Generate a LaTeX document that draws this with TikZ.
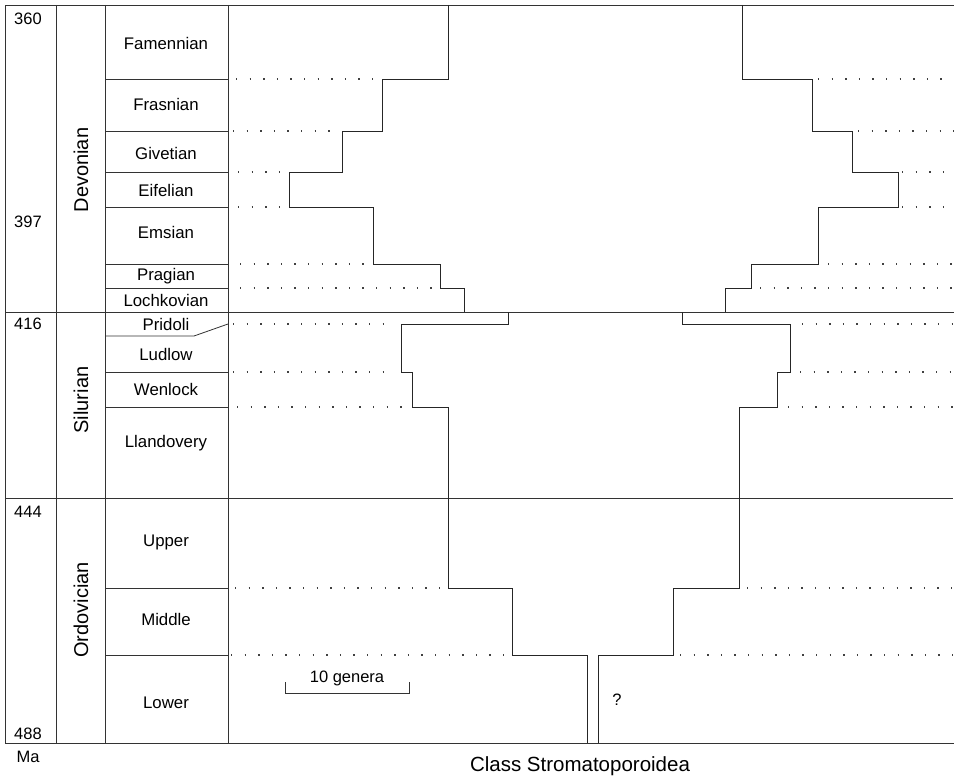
\documentclass[tikz,border=0pt]{standalone}
\usepackage{fontspec}
\setmainfont{Liberation Sans}
\begin{document}
\begin{tikzpicture}[x=1bp,y=-1bp,
  grid/.style={line width=0.8bp, draw=black!80},
  curve/.style={line width=0.9bp, draw=black!85},
  dotline/.style={line width=1.4bp, draw=black!75, dash pattern=on 1.4bp off 12.2bp},
  stage/.style={font=\fontsize{16.8bp}{18bp}\selectfont, inner sep=0pt},
  period/.style={font=\fontsize{20bp}{22bp}\selectfont, inner sep=0pt, rotate=90},
  age/.style={font=\fontsize{16.5bp}{18bp}\selectfont, inner sep=0pt}]
\useasboundingbox (0,0) rectangle (954,776);
% frame and columns
\draw[grid] (954,5) -- (5,5) -- (5,743) -- (954,743);
\draw[grid] (5,312) -- (954,312);
\draw[grid] (5,498) -- (953,498);
\draw[grid] (56,5) -- (56,743);
\draw[grid] (105,5) -- (105,743);
\draw[grid] (228,5) -- (228,743);
% stage boundaries
\foreach \y in {79,131,172,207,264,288,372,407,588,655}
  \draw[grid] (105,\y) -- (228,\y);
\draw[grid] (105,336) -- (194,336) -- (228,324);
% ages
\node[age] (a360) at (28,19) {360};
\node[age] (a397) at (28,222) {397};
\node[age] (a416) at (28,324) {416};
\node[age] (a444) at (28,512) {444};
\node[age] (a488) at (28,734) {488};
\node[age] (ma) at (28,757) {Ma};
% periods
\node[period] (dev) at (81,170) {Devonian};
\node[period] (sil) at (81,400) {Silurian};
\node[period] (ord) at (81,610) {Ordovician};
% stages
\node[stage] (fam) at (166,43) {Famennian};
\node[stage] (fra) at (166,104) {Frasnian};
\node[stage] (giv) at (166,153) {Givetian};
\node[stage] (eif) at (166,190) {Eifelian};
\node[stage] (ems) at (166,232) {Emsian};
\node[stage] (pra) at (166,276) {Pragian};
\node[stage] (loc) at (166,300) {Lochkovian};
\node[stage] (pri) at (166,324) {Pridoli};
\node[stage] (lud) at (166,354) {Ludlow};
\node[stage] (wen) at (166,389) {Wenlock};
\node[stage] (lla) at (166,443) {Llandovery};
\node[stage] (upp) at (166,542) {Upper};
\node[stage] (mid) at (166,619) {Middle};
\node[stage] (low) at (166,703) {Lower};
% spindle, left side
\draw[curve] (448,5) -- (448,79) -- (382,79) -- (382,131) -- (342,131) -- (342,172)
  -- (289,172) -- (289,207) -- (373,207) -- (373,264) -- (440,264) -- (440,288)
  -- (464,288) -- (464,312);
\draw[curve] (508,312) -- (508,324) -- (401,324) -- (401,372) -- (412,372) -- (412,407)
  -- (448,407) -- (448,588) -- (512,588) -- (512,655) -- (587,655) -- (587,743);
% spindle, right side
\draw[curve] (742,5) -- (742,79) -- (812,79) -- (812,131) -- (852,131) -- (852,172)
  -- (898,172) -- (898,207) -- (818,207) -- (818,264) -- (751,264) -- (751,288)
  -- (725,288) -- (725,312);
\draw[curve] (682,312) -- (682,324) -- (790,324) -- (790,372) -- (777,372) -- (777,407)
  -- (739,407) -- (739,588) -- (673,588) -- (673,655) -- (598,655) -- (598,743);
% dotted guide lines, left
\draw[dotline] (236,79) -- (376,79);
\draw[dotline] (233,131) -- (336,131);
\draw[dotline] (238,172) -- (283,172);
\draw[dotline] (238,207) -- (283,207);
\draw[dotline] (240,264) -- (367,264);
\draw[dotline] (240,288) -- (434,288);
\draw[dotline] (233,324) -- (396,324);
\draw[dotline] (233,372) -- (396,372);
\draw[dotline] (237,407) -- (406,407);
\draw[dotline] (235,588) -- (443,588);
\draw[dotline] (231,655) -- (507,655);
% dotted guide lines, right
\draw[dotline] (818,79) -- (954,79);
\draw[dotline] (858,131) -- (954,131);
\draw[dotline] (902,172) -- (954,172);
\draw[dotline] (902,207) -- (954,207);
\draw[dotline] (828,264) -- (954,264);
\draw[dotline] (760,288) -- (954,288);
\draw[dotline] (802,324) -- (954,324);
\draw[dotline] (800,372) -- (954,372);
\draw[dotline] (788,407) -- (954,407);
\draw[dotline] (747,588) -- (954,588);
\draw[dotline] (680,655) -- (954,655);
% scale bar
\coordinate (s1) at (285,682);
\coordinate (s2) at (409,682);
\draw[grid, line width=1bp] (s1) -- ++(0,11) -| (s2);
\node[age] (gen) at (347,678) {10 genera};
\node[age] (q) at (617,700) {?};
\node[font=\fontsize{20.5bp}{22bp}\selectfont, inner sep=0pt] (title) at (580,766) {Class Stromatoporoidea};
\end{tikzpicture}
\end{document}
